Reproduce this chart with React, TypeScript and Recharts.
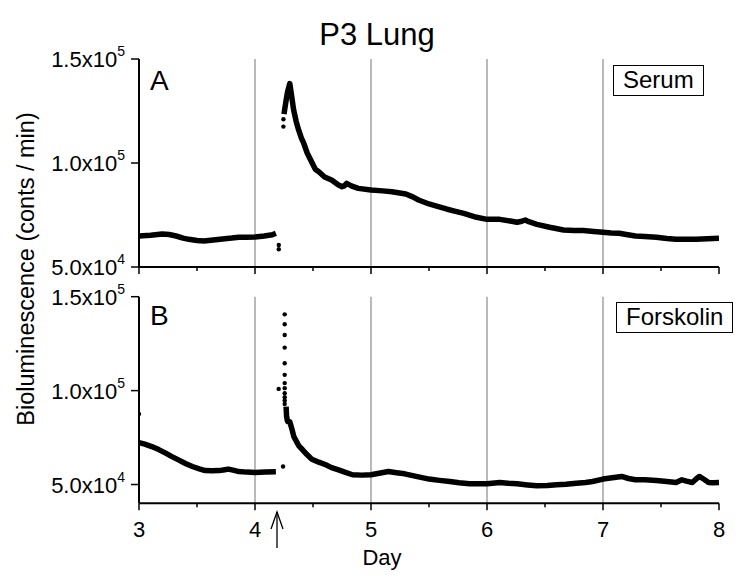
import { ComposedChart, Line, XAxis, YAxis, ReferenceLine, Legend } from 'recharts';

const FONT = '"Liberation Sans", Arial, sans-serif';

const dayTicks = [3, 3.5, 4, 4.5, 5, 5.5, 6, 6.5, 7, 7.5, 8];
const gridDays = [4, 5, 6, 7];
const countTicks = [50000, 100000, 150000];

// Panel A - serum
const serumDays = [
  3.0, 3.1, 3.2, 3.26, 3.32, 3.38, 3.43, 3.5, 3.56, 3.64, 3.72, 3.8, 3.86, 3.93, 4.0, 4.08, 4.15, 4.18,
  4.22,
  4.25, 4.265, 4.28, 4.3, 4.315, 4.333, 4.355, 4.376, 4.4, 4.42, 4.45, 4.48, 4.52, 4.55, 4.6, 4.66, 4.72,
  4.75, 4.77, 4.79, 4.83, 4.89, 5.0, 5.1, 5.18, 5.3, 5.36, 5.41, 5.5, 5.58, 5.65, 5.72, 5.8, 5.91, 6.0,
  6.11, 6.2, 6.26, 6.3, 6.33, 6.36, 6.43, 6.54, 6.66, 6.75, 6.83, 6.92, 7.0, 7.07, 7.14, 7.2, 7.28, 7.36,
  7.46, 7.55, 7.63, 7.72, 7.8, 7.9, 8.0,
];
const serumCounts = [
  64900, 65300, 65900, 65600, 64900, 63900, 63300, 62700, 62500, 63000, 63500, 63900, 64300, 64300, 64400, 64900, 65500, 66200,
  null,
  123500, 129000, 134000, 138200, 132500, 125500, 120000, 115900, 112000, 109500, 104800, 101400, 97000, 95800, 93300, 91800, 89400,
  88600, 89000, 90200, 89000, 87800, 87000, 86600, 86200, 85100, 83700, 82200, 80300, 79000, 77900, 76900, 75800, 73900, 72900,
  72900, 72100, 71500, 72000, 72600, 71800, 70500, 69100, 67800, 67600, 67500, 67100, 66700, 66300, 66200, 65600, 64900, 64700,
  64300, 63700, 63300, 63400, 63300, 63600, 63800,
];
const serumDotDays = [4.205, 4.205, 4.245, 4.245];
const serumDotCounts = [60600, 58500, 121000, 117500];

// Panel B - forskolin
const forskolinDays = [
  3.0, 3.05, 3.11, 3.17, 3.23, 3.28, 3.34, 3.4, 3.46, 3.52, 3.57, 3.63, 3.69, 3.74, 3.77, 3.82, 3.86, 3.93, 4.0, 4.09, 4.18,
  4.22,
  4.268, 4.272, 4.28, 4.3, 4.32, 4.335, 4.35, 4.38, 4.41, 4.45, 4.49, 4.55, 4.61, 4.66, 4.72, 4.78, 4.84, 4.92, 5.0,
  5.07, 5.15, 5.22, 5.29, 5.36, 5.43, 5.5, 5.59, 5.68, 5.76, 5.85, 6.0, 6.11, 6.18, 6.26, 6.35, 6.43, 6.52, 6.6,
  6.68, 6.77, 6.85, 6.91, 7.0, 7.08, 7.16, 7.22, 7.28, 7.36, 7.46, 7.55, 7.63, 7.68, 7.72, 7.77, 7.8, 7.83, 7.87,
  7.91, 7.95, 8.0,
];
const forskolinCounts = [
  72300, 71500, 70200, 68600, 66700, 65000, 63100, 61200, 59600, 58300, 57400, 57300, 57400, 57900, 58200, 57500, 56900, 56600, 56400, 56600, 56800,
  null,
  91500, 86500, 83600, 83400, 79100, 75500, 73800, 70400, 68500, 65800, 63500, 61900, 60500, 59000, 57800, 56500, 55200, 55000, 55200,
  56000, 56900, 56300, 55700, 54700, 53800, 52900, 52200, 51600, 50900, 50400, 50400, 51100, 50700, 50400, 49800, 49300, 49500, 49900,
  50200, 50700, 51100, 51600, 52900, 53600, 54300, 53200, 52500, 52500, 52100, 51600, 51100, 52500, 51800, 51100, 52800, 54300, 52800,
  51100, 51000, 51100,
];
const forskolinDotDays = [3.0, 4.204, 4.242, 4.256, 4.256, 4.256, 4.256, 4.256, 4.256, 4.256, 4.256, 4.256, 4.256, 4.256, 4.256];
const forskolinDotCounts = [87600, 100900, 59600, 140600, 135300, 129600, 122900, 114600, 108400, 104000, 101300, 98600, 96500, 94700, 92900];

type Row = { day: number; line: number | null; dot: number | null };

function buildRows(lineDays: number[], lineVals: (number | null)[], dotDays: number[], dotVals: number[]): Row[] {
  const dots = dotDays.map((d, i) => ({ day: d, line: null, dot: dotVals[i] }));
  const line = lineDays.map((d, i) => ({ day: d, line: lineVals[i], dot: null }));
  // dots first so the stable sort keeps them ahead of line points on the same day
  return [...dots, ...line].sort((a, b) => a.day - b.day);
}

const serumRows = buildRows(serumDays, serumCounts, serumDotDays, serumDotCounts);
const forskolinRows = buildRows(forskolinDays, forskolinCounts, forskolinDotDays, forskolinDotCounts);

// y tick like 1.5x10^5
const CountTick = ({ x, y, payload }: any) => {
  const v = payload.value;
  const exp = Math.floor(Math.log10(v));
  const mant = (v / Math.pow(10, exp)).toFixed(1);
  return (
    <text x={x} y={y + 8} textAnchor="end" fontSize={22} fill="#000" fontFamily={FONT}>
      {mant}x10
      <tspan fontSize={14} dy={-11}>{exp}</tspan>
    </text>
  );
};

const makeDayTick = (showLabels: boolean) => ({ x, y, payload }: any) => {
  const major = Number.isInteger(payload.value);
  return (
    <g>
      <line x1={x} y1={y} x2={x} y2={y + (major ? 7 : 4)} stroke="#000" strokeWidth={1.5} />
      {showLabels && major && (
        <text x={x} y={y + 34} textAnchor="middle" fontSize={22} fill="#000" fontFamily={FONT}>
          {payload.value}
        </text>
      )}
    </g>
  );
};

const BoxLegend = (label: string) => () => (
  <div
    style={{
      display: 'inline-block',
      border: '1.5px solid #000',
      background: '#fff',
      padding: '0 9px',
      height: 31,
      boxSizing: 'border-box',
      lineHeight: '28px',
      fontSize: 24,
      fontFamily: FONT,
      color: '#000',
      whiteSpace: 'nowrap',
    }}
  >
    {label}
  </div>
);

const renderDayLabel = (props: any) => {
  const vb = props.viewBox || {};
  return (
    <text x={382} y={vb.y + 62} textAnchor="middle" fontSize={22} fill="#000" fontFamily={FONT}>
      Day
    </text>
  );
};

interface PanelProps {
  rows: Row[];
  name: string;
  height: number;
  top: number;
  xAxisHeight: number;
  yDomain: [number, number];
  showDayLabels: boolean;
  legendLeft: number;
  legendTop: number;
}

function Panel({ rows, name, height, top, xAxisHeight, yDomain, showDayLabels, legendLeft, legendTop }: PanelProps) {
  return (
    <ComposedChart
      width={750}
      height={height}
      data={rows}
      margin={{ top, right: 31, bottom: 0, left: 0 }}
      style={{ fontFamily: FONT }}
    >
      <XAxis
        dataKey="day"
        type="number"
        domain={[3, 8]}
        ticks={dayTicks}
        interval={0}
        allowDataOverflow
        height={xAxisHeight}
        tickLine={false}
        tickSize={0}
        tickMargin={0}
        tick={makeDayTick(showDayLabels)}
        axisLine={{ stroke: '#000', strokeWidth: 2 }}
        label={showDayLabels ? renderDayLabel : undefined}
      />
      <YAxis
        type="number"
        domain={yDomain}
        ticks={countTicks}
        interval={0}
        allowDataOverflow
        width={139}
        tickSize={8}
        tickMargin={6}
        tick={<CountTick />}
        tickLine={{ stroke: '#000', strokeWidth: 1.5 }}
        axisLine={{ stroke: '#000', strokeWidth: 2 }}
      />
      {gridDays.map((d) => (
        <ReferenceLine key={d} x={d} stroke="#808080" strokeWidth={1.1} />
      ))}
      <Line
        name={name}
        type="linear"
        dataKey="line"
        stroke="#000"
        strokeWidth={5.5}
        strokeLinejoin="round"
        dot={false}
        activeDot={false}
        connectNulls={false}
        isAnimationActive={false}
      />
      <Line
        name={name + ' points'}
        type="linear"
        dataKey="dot"
        stroke="none"
        dot={{ r: 2.2, fill: '#000', stroke: 'none' }}
        activeDot={false}
        legendType="none"
        isAnimationActive={false}
      />
      <Legend
        layout="horizontal"
        verticalAlign="middle"
        align="center"
        content={BoxLegend(name)}
        wrapperStyle={{ position: 'absolute', left: legendLeft, top: legendTop, width: 'auto', height: 'auto' }}
      />
    </ComposedChart>
  );
}

export default function App() {
  return (
    <div style={{ position: 'absolute', left: 0, top: 0, width: 750, height: 585, background: '#fff', fontFamily: FONT }}>
      <div style={{ position: 'absolute', left: 0, top: 0 }}>
        <Panel
          rows={serumRows}
          name="Serum"
          height={290}
          top={59}
          xAxisHeight={23}
          yDomain={[50000, 150000]}
          showDayLabels={false}
          legendLeft={613}
          legendTop={65}
        />
      </div>
      <div style={{ position: 'absolute', left: 0, top: 270 }}>
        <Panel
          rows={forskolinRows}
          name="Forskolin"
          height={315}
          top={26.7}
          xAxisHeight={81.7}
          yDomain={[40000, 150000]}
          showDayLabels={true}
          legendLeft={616}
          legendTop={32}
        />
      </div>
      <svg width={750} height={585} style={{ position: 'absolute', left: 0, top: 0, pointerEvents: 'none' }}>
        <text x={377} y={45} textAnchor="middle" fontSize={31} fill="#000" fontFamily={FONT}>
          P3 Lung
        </text>
        <text
          transform="translate(34,269) rotate(-90)"
          textAnchor="middle"
          fontSize={23.5}
          fill="#000"
          fontFamily={FONT}
        >
          Bioluminescence (conts / min)
        </text>
        <text x={150} y={90} fontSize={28} fill="#000" fontFamily={FONT}>A</text>
        <text x={150} y={325} fontSize={28} fill="#000" fontFamily={FONT}>B</text>
        <line x1={277} y1={548} x2={277} y2={512} stroke="#000" strokeWidth={1.3} />
        <polyline points="271,529 277,512 283,529" fill="none" stroke="#000" strokeWidth={1.3} />
      </svg>
    </div>
  );
}
